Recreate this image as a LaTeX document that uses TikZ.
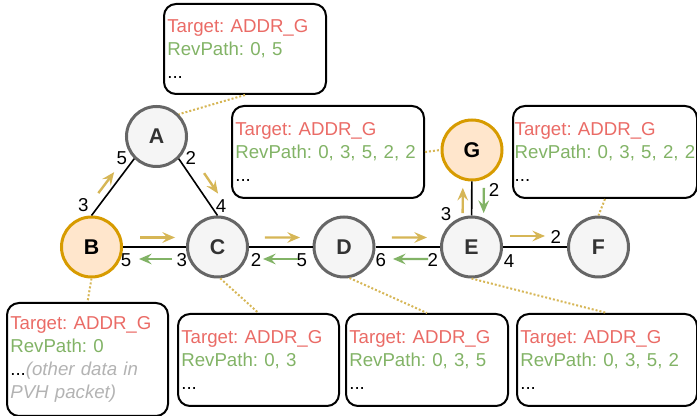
\documentclass[tikz,border=0pt]{standalone}
\usepackage{fontspec}
\setmainfont{Liberation Sans}
\frenchspacing
\usetikzlibrary{calc,arrows.meta}

\definecolor{nodeline}{HTML}{666666}
\definecolor{nodefill}{HTML}{F5F5F5}
\definecolor{nodetext}{HTML}{333333}
\definecolor{srcline}{HTML}{D79B00}
\definecolor{srcfill}{HTML}{FFE6CC}
\definecolor{fwdyellow}{HTML}{D6B656}
\definecolor{revgreen}{HTML}{82B366}
\definecolor{tgtred}{HTML}{EA6B66}
\definecolor{notegray}{HTML}{B3B3B3}

\begin{document}
\begin{tikzpicture}[x=0.75pt,y=-0.75pt]
        \useasboundingbox (0,0) rectangle (697,416);
        % routers
        \begin{scope}[every node/.style={circle, draw=nodeline, fill=nodefill, text=nodetext, line width=2.25pt, minimum size=45pt, inner sep=0, font=\fontsize{16}{19}\selectfont\bfseries}]
                \node (A) at (156.5,136.5) {A};
                \node[draw=srcline, fill=srcfill, text=black] (B) at (91.5,247) {B};
                \node (C) at (217.5,247) {C};
                \node (D) at (344,247) {D};
                \node (E) at (471.5,247) {E};
                \node (F) at (598.5,247) {F};
                \node[draw=srcline, fill=srcfill, text=black] (G) at (472,150) {G};
        \end{scope}
        % packet contents
        \begin{scope}[every node/.style={draw, rounded corners=9pt, line width=1.5pt, anchor=north west, align=left, inner xsep=2.5pt, inner ysep=0pt, minimum height=69pt, font=\fontsize{14}{17.25}\selectfont}]
                \node[text width=116.5pt, minimum height=67.5pt] (boxA) at (163,3) {\textcolor{tgtred}{Target: ADDR\_G}\\ \textcolor{revgreen}{RevPath: 0, 5}\\ ...};
                \node[text width=139pt] (boxG) at (231,105) {\textcolor{tgtred}{Target: ADDR\_G}\\ \textcolor{revgreen}{RevPath: 0, 3, 5, 2, 2}\\ ...};
                \node[text width=135.5pt, inner xsep=1.25pt] (boxF) at (512,105) {\textcolor{tgtred}{Target: ADDR\_G}\\ \textcolor{revgreen}{RevPath: 0, 3, 5, 2, 2}\\ ...};
                \node[text width=115.75pt, minimum height=84.75pt] (boxB) at (6,302) {\textcolor{tgtred}{Target: ADDR\_G}\\ \textcolor{revgreen}{RevPath: 0}\\ ...\textcolor{notegray}{\textit{(other data in}}\\ \textcolor{notegray}{\textit{PVH packet)}}};
                \node[text width=115.75pt] (boxC) at (177,313) {\textcolor{tgtred}{Target: ADDR\_G}\\ \textcolor{revgreen}{RevPath: 0, 3}\\ ...};
                \node[text width=116.5pt] (boxD) at (345,313) {\textcolor{tgtred}{Target: ADDR\_G}\\ \textcolor{revgreen}{RevPath: 0, 3, 5}\\ ...};
                \node[text width=130pt] (boxE) at (516,313) {\textcolor{tgtred}{Target: ADDR\_G}\\ \textcolor{revgreen}{RevPath: 0, 3, 5, 2}\\ ...};
        \end{scope}
        % port numbers
        \begin{scope}[every node/.style={inner sep=0, font=\fontsize{14}{17}\selectfont}]
                \node (pBA) at (83.3,205) {3};
                \node (pAB) at (121.7,158.3) {5};
                \node (pAC) at (190.7,158.3) {2};
                \node (pCA) at (221,206) {4};
                \node (pBC) at (126,260) {5};
                \node (pCB) at (181.7,260) {3};
                \node (pCD) at (256,260) {2};
                \node (pDC) at (301.7,260) {5};
                \node (pDE) at (380.7,260) {6};
                \node (pED) at (432.7,260) {2};
                \node (pEF) at (509,260.7) {4};
                \node (pFE) at (555.7,236.7) {2};
                \node (pEG) at (446,214) {3};
                \node (pGE) at (494,190) {2};
        \end{scope}
        % links
        \begin{scope}[every path/.style={line width=1.2pt}]
                \path (B.north) edge (A.south west);
                \path (A.south east) edge (C.north);
                \path (B) edge (C);
                \path (C) edge (D);
                \path (D) edge (E);
                \path (E) edge (F);
                \path (E) edge (G);
        \end{scope}
        \begin{scope}[every path/.style={fwdyellow, line width=1.5pt, dash pattern=on 1.5pt off 1.5pt}]
                \path (boxA.south) edge (A.north east);
                \path (boxG.east) edge (G.west);
                \path (boxF.south) edge (F.north);
                \path (B.south) edge (boxB.north);
                \path (C.-85) edge (boxC.north);
                \path (D.-80) edge (boxD.north);
                \path (E.south) edge (boxE.north);
        \end{scope}
        % request and reply directions
        \begin{scope}[>={Stealth[length=9.5pt,width=8pt,inset=3.5pt]}, fwd/.style={->, draw=fwdyellow, line width=1.8pt}, bwd/.style={->, draw=revgreen, line width=1.8pt}]
                \draw[fwd] ($(B.north)!0.31!(A.south west)+(-6.4,-4.8)$) -- ($(B.north)!0.68!(A.south west)+(-6.4,-4.8)$);
                \draw[fwd] ($(A.south east)!0.38!(C.north)+(10.6,-7.2)$) -- ($(A.south east)!0.74!(C.north)+(10.6,-7.2)$);
                \draw[fwd] ($(B)!0.385!(C)+(0,-9.5)$) -- ($(B)!0.663!(C)+(0,-9.5)$);
                \draw[bwd] ($(C)!0.361!(B)+(0,12)$) -- ($(C)!0.623!(B)+(0,12)$);
                \draw[fwd] ($(C)!0.375!(D)+(0,-9.5)$) -- ($(C)!0.652!(D)+(0,-9.5)$);
                \draw[bwd] ($(D)!0.364!(C)+(0,12)$) -- ($(D)!0.64!(C)+(0,12)$);
                \draw[fwd] ($(D)!0.376!(E)+(0,-9.5)$) -- ($(D)!0.651!(E)+(0,-9.5)$);
                \draw[bwd] ($(E)!0.341!(D)+(0,12)$) -- ($(E)!0.616!(D)+(0,12)$);
                \draw[fwd] ($(E)!0.303!(F)+(0,-11)$) -- ($(E)!0.579!(F)+(0,-11)$);
                \draw[fwd] ($(E)!0.35!(G)+(-9,0)$) -- ($(E)!0.61!(G)+(-9,0)$);
                \draw[bwd] ($(G)!0.39!(E)+(12,0)$) -- ($(G)!0.65!(E)+(12,0)$);
        \end{scope}
\end{tikzpicture}
\end{document}
